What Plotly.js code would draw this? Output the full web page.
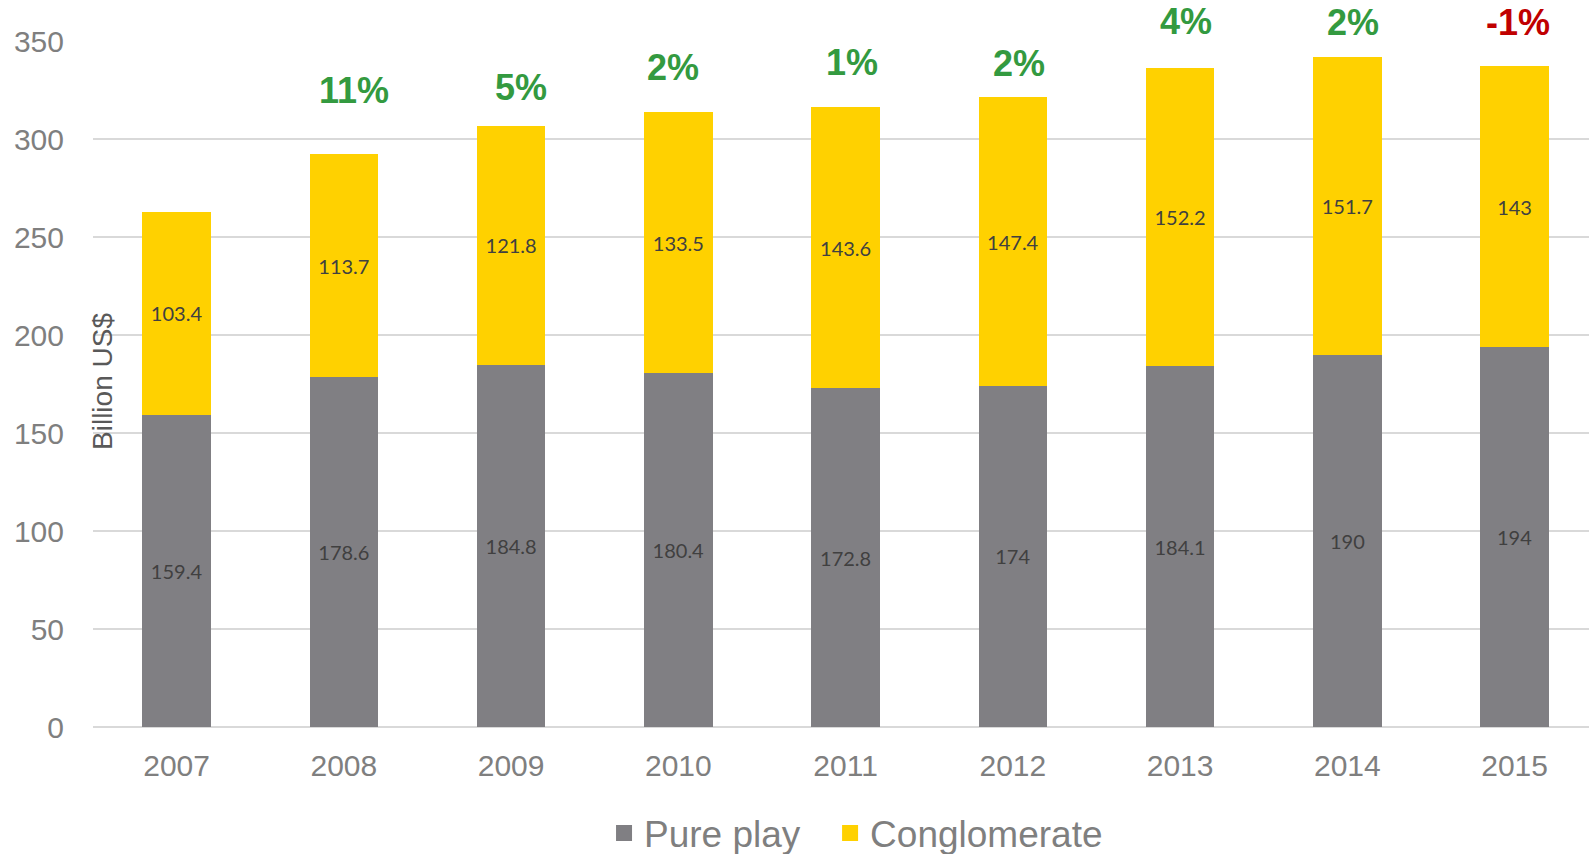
<!DOCTYPE html>
<html>
<head>
<meta charset="utf-8">
<script src="https://cdn.plot.ly/plotly-3.0.1.min.js"></script>
<style>html,body{margin:0;padding:0;background:#fff;}#chart{width:1589px;height:854px;}</style>
</head>
<body>
<div id="chart"></div>
<script>
// ---- data ----
const years = ["2007","2008","2009","2010","2011","2012","2013","2014","2015"];
const purePlay = [159.4, 178.6, 184.8, 180.4, 172.8, 174, 184.1, 190, 194];
const conglomerate = [103.4, 113.7, 121.8, 133.5, 143.6, 147.4, 152.2, 151.7, 143];
const growthLabels = ["", "11%", "5%", "2%", "1%", "2%", "4%", "2%", "-1%"];
const seriesNames = ["Pure play", "Conglomerate"];

// ---- styles ----
const GRAY = "#807F83", YELLOW = "#FFD100";
const labelYShift = [0, 64, 39, 44, 44, 34, 46, 35, 44];
const labelXShift = [0, 10, 10, -5, 6, 6, 6, 6, 3];
const sans = "Liberation Sans, Arial, sans-serif";

const labelFont = {family: "Lato, Carlito, sans-serif", size: 20, color: "#404040"};

const traces = [
  {type: "bar", x: years, y: purePlay, name: seriesNames[0], marker: {color: GRAY},
   text: purePlay.map(String), textposition: "inside", insidetextanchor: "middle",
   textangle: 0, constraintext: "none", insidetextfont: labelFont, textfont: labelFont,
   showlegend: false, hoverinfo: "skip"},
  {type: "bar", x: years, y: conglomerate, name: seriesNames[1], marker: {color: YELLOW},
   text: conglomerate.map(String), textposition: "inside", insidetextanchor: "middle",
   textangle: 0, constraintext: "none", insidetextfont: labelFont, textfont: labelFont,
   showlegend: false, hoverinfo: "skip"},
  // legend entries
  {type: "scatter", mode: "markers", x: [null], y: [null], name: seriesNames[0], legend: "legend",
   marker: {symbol: "square", size: 18, color: GRAY}, hoverinfo: "skip"},
  {type: "scatter", mode: "markers", x: [null], y: [null], name: seriesNames[1], legend: "legend2",
   marker: {symbol: "square", size: 18, color: YELLOW}, hoverinfo: "skip"}
];

const annotations = [];
years.forEach((yr, i) => {
  if (!growthLabels[i]) return;
  const total = purePlay[i] + conglomerate[i];
  annotations.push({
    x: i, y: total, xref: "x", yref: "y", text: "<b>" + growthLabels[i] + "</b>", showarrow: false,
    yanchor: "middle", xanchor: "center", yshift: labelYShift[i], xshift: labelXShift[i],
    font: {family: sans, size: 36, color: growthLabels[i].startsWith("-") ? "#C00000" : "#339A40"}
  });
});
annotations.push({
  xref: "paper", yref: "paper", x: 0.0067, y: 0.503, text: "Billion US$", showarrow: false,
  textangle: -90, xanchor: "center", yanchor: "middle",
  font: {family: sans, size: 28, color: "#595959"}
});

const legendBase = {orientation: "h", xanchor: "left", y: -0.155, yanchor: "middle",
  font: {family: sans, size: 37, color: "#7F7F7F"}, itemsizing: "trace",
  bgcolor: "rgba(0,0,0,0)", borderwidth: 0};

const layout = {
  width: 1589, height: 854,
  margin: {l: 93, r: 0, t: 41, b: 127, pad: 0, autoexpand: false},
  paper_bgcolor: "#fff", plot_bgcolor: "#fff",
  barmode: "stack", bargap: 0.59,
  font: {family: sans, color: "#7F7F7F"},
  xaxis: {type: "category", range: [-0.5, 8.445], showgrid: false, zeroline: false,
          showline: false, ticks: "outside", ticklen: 0, ticklabelstandoff: 12,
          tickfont: {family: sans, size: 30, color: "#7F7F7F"}, fixedrange: true},
  yaxis: {range: [0, 350], dtick: 50, showgrid: true, gridcolor: "#D9D9D9", gridwidth: 2,
          zeroline: true, zerolinecolor: "#D9D9D9", zerolinewidth: 2, showline: false,
          ticks: "outside", ticklen: 0, ticklabelstandoff: 22,
          tickfont: {family: sans, size: 30, color: "#7F7F7F"}, fixedrange: true},
  legend: Object.assign({}, legendBase, {x: 0.3416}),
  legend2: Object.assign({}, legendBase, {x: 0.4927}),
  annotations: annotations
};

Plotly.newPlot("chart", traces, layout, {displayModeBar: false, staticPlot: true});
</script>
</body>
</html>
